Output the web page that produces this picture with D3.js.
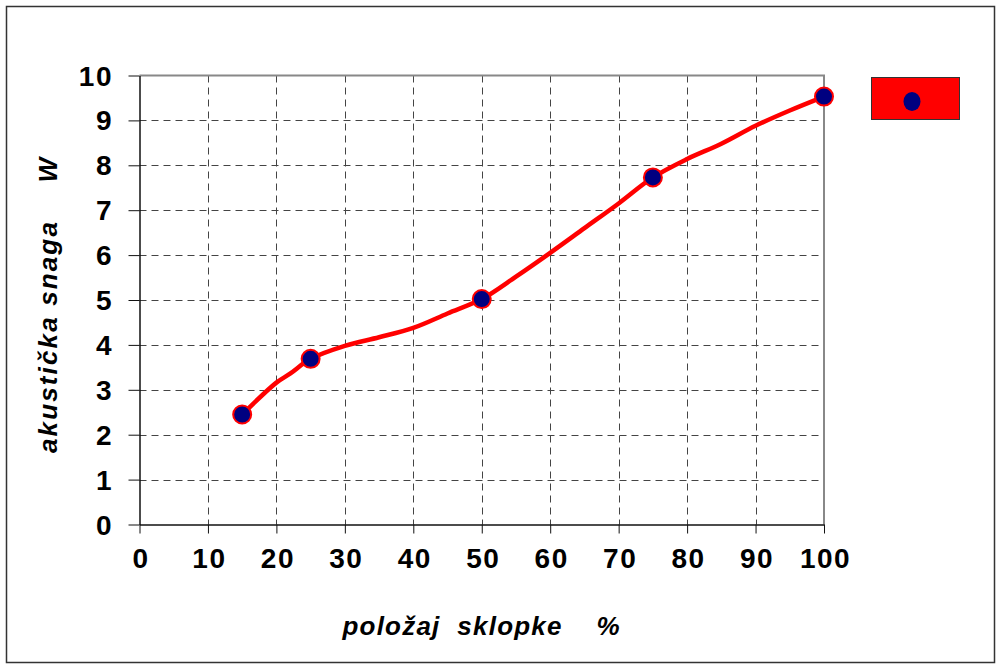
<!DOCTYPE html>
<html>
<head>
<meta charset="utf-8">
<script src="https://cdn.jsdelivr.net/npm/d3@7"></script>
<style>
  body { margin: 0; background: #fff; }
  svg { display: block; }
  text { font-family: "Liberation Sans", Arial, sans-serif; }
  .title { white-space: pre; }
</style>
</head>
<body>
<svg id="chart" width="1001" height="666"></svg>
<script>
// Measured points
const pointX = [15, 25, 50, 75, 100];
const pointY = [2.45, 3.69, 5.02, 7.73, 9.53];
// Traced curve
const curveX = [15, 20, 22, 25, 30, 35, 40, 45, 50, 55, 60, 65, 70, 75, 80, 85, 90, 95, 100];
const curveY = [2.45, 3.16, 3.36, 3.69, 3.98, 4.17, 4.38, 4.7, 5.02, 5.52, 6.05, 6.6, 7.15, 7.73, 8.14, 8.48, 8.88, 9.22, 9.53];
const xTicks = [0, 10, 20, 30, 40, 50, 60, 70, 80, 90, 100];
const yTicks = [0, 1, 2, 3, 4, 5, 6, 7, 8, 9, 10];
const xTitle = "položaj  sklopke    %";
const yTitle = "akustička snaga    W";

const svg = d3.select("#chart");
const x = d3.scaleLinear().domain([0, 100]).range([139.5, 824]);
const y = d3.scaleLinear().domain([0, 10]).range([524.5, 75.5]);

// outer frame
svg.append("rect").attr("x", 6.5).attr("y", 6.5).attr("width", 988).attr("height", 656)
  .attr("fill", "#fff").attr("stroke", "#333").attr("stroke-width", 1.5);

// grid
const grid = svg.append("g").attr("stroke", "#444").attr("stroke-width", 1).attr("stroke-dasharray", "7,5");
grid.selectAll("line.v").data(xTicks.filter(d => d > 0 && d < 100)).enter().append("line")
  .attr("x1", d => Math.round(x(d)) + 0.5).attr("x2", d => Math.round(x(d)) + 0.5)
  .attr("y1", y(10)).attr("y2", y(0));
grid.selectAll("line.h").data(yTicks.filter(d => d > 0 && d < 10)).enter().append("line")
  .attr("y1", d => Math.round(y(d)) + 0.5).attr("y2", d => Math.round(y(d)) + 0.5)
  .attr("x1", x(0)).attr("x2", x(100));

// plot border top/right gray
svg.append("path")
  .attr("d", `M${x(0)},${y(10)}H${x(100)}V${y(0)}`)
  .attr("fill", "none").attr("stroke", "#888").attr("stroke-width", 2);

// axes
const yAxis = d3.axisLeft(y).tickValues(yTicks).tickSize(11).tickSizeOuter(0).tickPadding(17);
const gy = svg.append("g").attr("transform", `translate(${x(0)},0)`).call(yAxis);
const xAxis = d3.axisBottom(x).tickValues(xTicks).tickSize(9).tickSizeOuter(0).tickPadding(15);
const gx = svg.append("g").attr("transform", `translate(0,${y(0)})`).call(xAxis);
[gx, gy].forEach(g => {
  g.select(".domain").attr("stroke", "#111").attr("stroke-width", 1.5);
  g.selectAll(".tick line").attr("stroke", "#111").attr("stroke-width", 1);
  g.selectAll(".tick text").attr("fill", "#000").attr("font-size", 28).attr("font-weight", "bold")
    .attr("font-family", "Liberation Sans, Arial, sans-serif").attr("letter-spacing", 1.5);
});
gx.selectAll(".tick text").attr("dy", "0.71em").attr("dx", 1);
gy.selectAll(".tick text").attr("dx", 1.5).attr("dy", "0.34em");

// curve
const line = d3.line().x((d, i) => x(curveX[i])).y(d => y(d)).curve(d3.curveCatmullRom.alpha(0.5));
svg.append("path").datum(curveY).attr("d", line)
  .attr("fill", "none").attr("stroke", "#ff0000").attr("stroke-width", 4.5)
  .attr("stroke-linejoin", "round").attr("stroke-linecap", "round");

// markers
svg.selectAll("circle.pt").data(pointY).enter().append("circle")
  .attr("class", "pt")
  .attr("cx", (d, i) => x(pointX[i])).attr("cy", d => y(d)).attr("r", 9)
  .attr("fill", "#000080").attr("stroke", "#ff0000").attr("stroke-width", 2);

// legend
svg.append("rect").attr("x", 871.5).attr("y", 77.5).attr("width", 88).attr("height", 42)
  .attr("fill", "#ff0000").attr("stroke", "#333").attr("stroke-width", 1);
svg.append("ellipse").attr("cx", 912).attr("cy", 101.5).attr("rx", 8.5).attr("ry", 9.5)
  .attr("fill", "#000080");

// titles
svg.append("text").attr("class", "title").attr("x", 481).attr("y", 635).attr("text-anchor", "middle")
  .attr("font-size", 26).attr("font-weight", "bold").attr("font-style", "italic")
  .attr("textLength", 277).attr("lengthAdjust", "spacing")
  .attr("fill", "#000").text(xTitle);
svg.append("text").attr("class", "title").attr("transform", "translate(57,305.5) rotate(-90)").attr("text-anchor", "middle")
  .attr("font-size", 26).attr("font-weight", "bold").attr("font-style", "italic")
  .attr("textLength", 295).attr("lengthAdjust", "spacing")
  .attr("fill", "#000").text(yTitle);
</script>
</body>
</html>
